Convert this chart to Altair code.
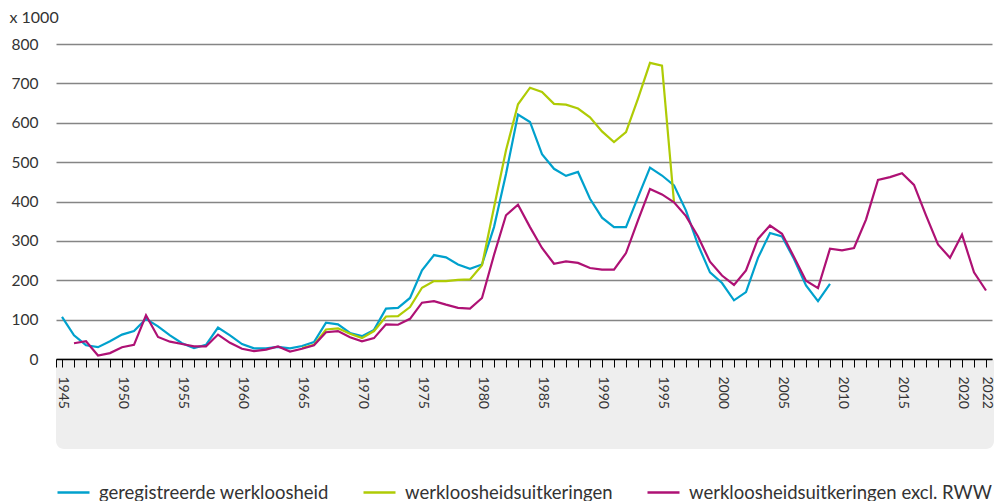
import altair as alt
import pandas as pd

# ---- data (values x 1000) ----
blue_years = list(range(1945, 2010))
blue_values = [107, 60, 35, 30, 45, 62, 71, 102, 83, 60, 40, 28, 36, 80, 60, 38, 27, 27, 31, 27,
               33, 43, 92, 88, 66, 58, 74, 128, 130, 155, 225, 264, 258, 240, 229, 240, 335, 470,
               621, 602, 520, 483, 465, 475, 407, 359, 335, 335, 411, 486, 466, 441, 377, 290,
               220, 193, 149, 170, 257, 320, 311, 254, 187, 147, 191]

green_years = list(range(1965, 1997))
green_values = [28, 36, 75, 78, 64, 53, 71, 108, 109, 132, 181, 198, 198, 201, 202, 238, 385, 530,
                647, 689, 678, 648, 646, 636, 614, 578, 551, 576, 661, 752, 745, 398]

magenta_years = list(range(1946, 2023))
magenta_values = [40, 45, 9, 15, 30, 36, 111, 56, 44, 38, 32, 32, 62, 41, 26, 20, 24, 32, 19, 26,
                  35, 68, 71, 55, 45, 53, 88, 87, 102, 143, 147, 138, 130, 128, 155, 264, 365, 392,
                  335, 282, 242, 248, 244, 231, 227, 227, 269, 352, 432, 418, 398, 363, 311, 247,
                  212, 188, 225, 305, 339, 318, 259, 199, 180, 280, 276, 282, 354, 455, 462, 472,
                  442, 365, 291, 257, 316, 220, 174]

series_names = ["geregistreerde werkloosheid", "werkloosheidsuitkeringen",
                "werkloosheidsuitkeringen excl. RWW"]
series_colors = ["#00a1cd", "#afcb05", "#ae1174"]

tick_years = [1944.5] + list(range(1945, 2023))

frames = []
for name, yrs, vals in zip(series_names, [blue_years, green_years, magenta_years],
                           [blue_values, green_values, magenta_values]):
    frames.append(pd.DataFrame({"jaar": yrs, "waarde": vals, "reeks": name}))
df = pd.concat(frames, ignore_index=True)

FONT = "Lato"
W, H = 936, 315

x_enc = alt.X(
    "jaar:Q",
    scale=alt.Scale(domain=[1944.5, 2022.5], nice=False, zero=False),
    axis=alt.Axis(
        title=None,
        values=tick_years,
        format="d",
        labelExpr="(datum.value % 5 == 0 || datum.value == 2022) ? datum.label : ''",
        labelAngle=90,
        labelFont=FONT,
        labelFontSize=14,
        labelColor="#333333",
        labelPadding=9,
        tickSize=8,
        tickColor="#000000",
        tickWidth=1,
        domainColor="#000000",
        domainWidth=1.6,
        grid=False,
        labelOverlap=False,
        labelFlush=False,
        zindex=1,
    ),
)
y_enc = alt.Y(
    "waarde:Q",
    scale=alt.Scale(domain=[0, 800], nice=False),
    axis=alt.Axis(
        title="x 1000",
        titleAngle=0,
        titleAlign="left",
        titleBaseline="middle",
        titleX=-47,
        titleY=-27,
        titleFont=FONT,
        titleFontSize=16,
        titleFontWeight="normal",
        titleColor="#333333",
        values=[0, 100, 200, 300, 400, 500, 600, 700, 800],
        labelFont=FONT,
        labelFontSize=15.5,
        labelColor="#333333",
        labelPadding=18,
        ticks=False,
        tickSize=0,
        domain=False,
        grid=True,
        gridColor="#858585",
        gridWidth=1.3,
    ),
)
color_enc = alt.Color(
    "reeks:N",
    scale=alt.Scale(domain=series_names, range=series_colors),
    legend=alt.Legend(
        title=None,
        orient="none",
        direction="horizontal",
        legendX=0,
        legendY=431,
        symbolType="stroke",
        symbolSize=1024,
        symbolStrokeWidth=2.5,
        labelFont=FONT,
        labelFontSize=18.5,
        labelColor="#333333",
        labelOffset=8,
        labelLimit=600,
        columnPadding=29,
        padding=0,
    ),
)

band = alt.Chart(pd.DataFrame({"a": [0]})).mark_rect(
    color="#eeeeee",
    cornerRadiusBottomLeft=8,
    cornerRadiusBottomRight=8,
).encode(
    x=alt.value(0), x2=alt.value(W + 2), y=alt.value(H + 1), y2=alt.value(H + 90)
)

base = alt.Chart(df)
layers = [band]
for name in series_names:
    layers.append(
        base.transform_filter(alt.datum.reeks == name)
        .mark_line(strokeWidth=2.2)
        .encode(x=x_enc, y=y_enc, color=color_enc)
    )

chart = (
    alt.layer(*layers)
    .properties(
        width=W,
        height=H,
        autosize=alt.AutoSizeParams(type="none"),
        padding={"left": 48, "top": 36, "right": 2, "bottom": 142},
        background="white",
    )
    .configure_view(stroke=None)
)

chart.save("out.html", embed_options={"renderer": "svg", "actions": False})
